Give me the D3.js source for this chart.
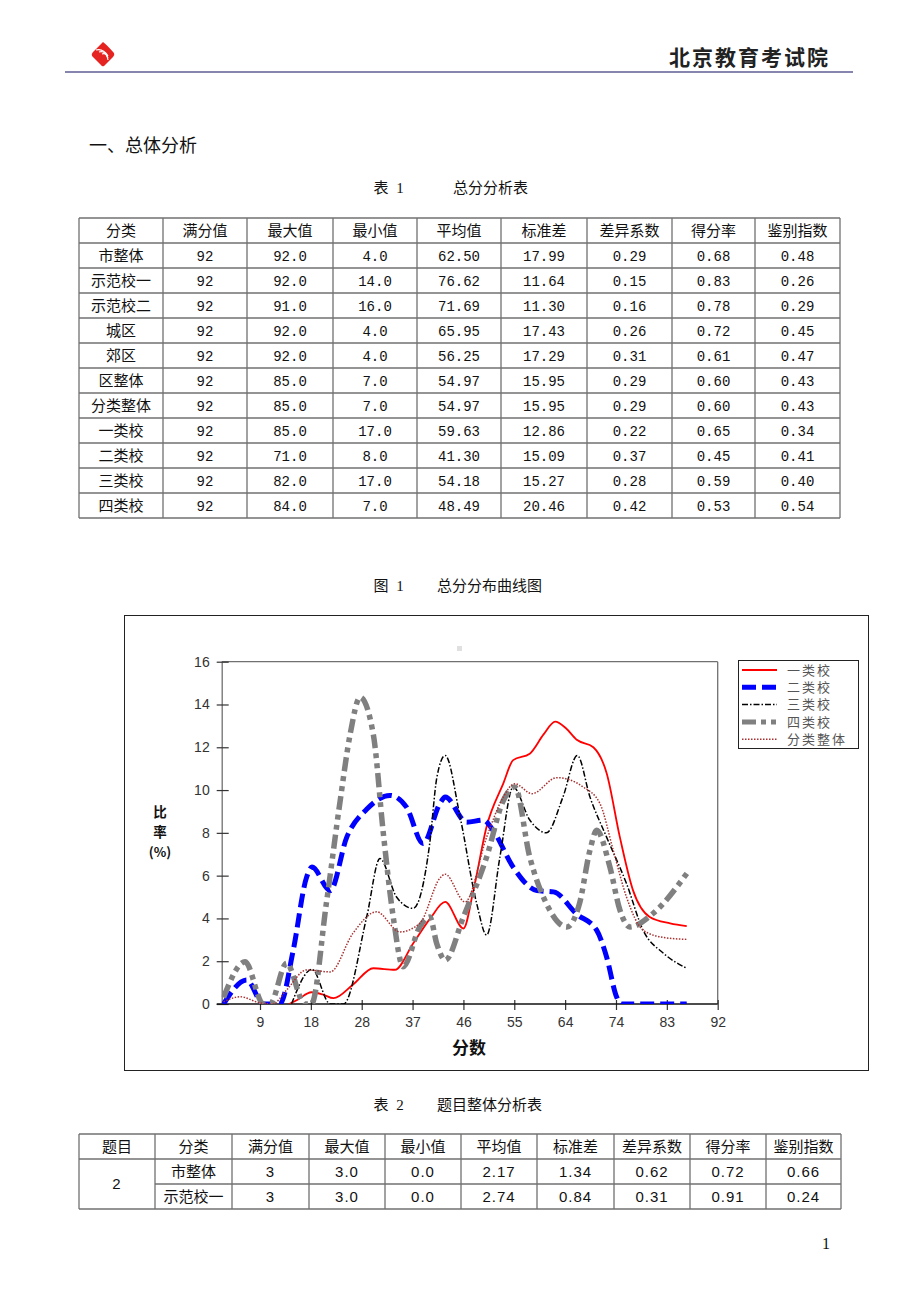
<!DOCTYPE html>
<html><head><meta charset="utf-8">
<script src="https://cdn.jsdelivr.net/npm/d3@7"></script>
<style>body{margin:0;background:#fff} svg{display:block}</style>
</head><body>
<script>
// ---------- chart data ----------
const xTickLabels = [9,18,28,37,46,55,64,74,83,92];
const yTicks = [0,2,4,6,8,10,12,14,16];
const seriesNames = ["一类校","二类校","三类校","四类校","分类整体"];
const s1 = [[14.5,0],[16,0.2],[18.5,0.55],[20.5,0.45],[22.5,0.27],[26,0.9],[29.7,1.67],[33.6,1.6],[36.9,2.83],[40,4.0],[42.7,4.77],[46,3.53],[47.8,5.3],[50.2,8.3],[53.2,10.3],[55,11.4],[58,11.7],[60.5,12.6],[62.6,13.2],[64.5,12.9],[66.5,12.35],[69.5,12.0],[71.9,10.8],[74.3,7.8],[76.7,5.3],[79.7,4.07],[83.4,3.77],[86.4,3.64]];
const s2 = [[2.6,0],[6.8,1.12],[9.8,0],[12.8,0],[15.2,2.5],[17.6,5.9],[18.6,6.4],[21.9,5.3],[24.9,7.8],[28.5,9.1],[32.7,9.75],[35.7,9.2],[38.7,7.5],[41.8,9.4],[42.7,9.67],[46.6,8.5],[49.6,8.6],[51.4,8.1],[55,6.4],[59.3,5.3],[62.3,5.24],[66.5,4.2],[70.1,3.45],[71.9,2.2],[73.7,0.34],[74.5,0],[80,0],[86.4,0]];
const s3 = [[14.9,0],[18.6,1.62],[21.9,0],[24.3,0],[28.5,4.07],[30.9,6.8],[33.9,5.0],[36.9,4.47],[39.9,7.5],[41.2,10.6],[42.7,11.62],[45.4,8.74],[48.4,4.7],[50.2,3.22],[52.6,6.87],[55,10.14],[58,8.6],[61,8.0],[64,9.67],[66.6,11.62],[68.9,9.67],[71.9,7.8],[75.5,5.63],[78.5,3.45],[82.2,2.37],[86.4,1.67]];
const s4 = [[2.6,0.3],[6.5,1.97],[9.8,0],[11,0],[14,1.9],[17.3,0],[18.5,0],[21.2,4.7],[23.7,9.5],[25.5,12.6],[27.3,14.34],[29.7,12.6],[31.5,8.0],[33.3,4.07],[35.1,1.74],[38.1,3.6],[39.9,4.07],[41.2,2.8],[42.7,2.05],[46,4.07],[50.2,6.87],[53.2,9.5],[55.3,10.14],[58,6.87],[61,4.7],[64.7,3.6],[67,4.7],[68.9,7.2],[70.1,8.12],[72.5,6.4],[74.3,4.4],[76.1,3.6],[80.3,4.23],[86.4,6.1]];
const s5 = [[2.6,0.1],[5.6,0.34],[9.2,0.05],[11.5,0],[14,0.65],[17.6,1.59],[21.9,1.5],[26,3.3],[30.3,4.31],[34.5,3.37],[38.1,3.77],[41.8,5.9],[42.7,6.07],[46.3,4.77],[50.2,7.8],[53.2,9.67],[55.3,10.3],[58.4,9.83],[62.9,10.58],[67.7,10.14],[70.7,9.37],[73.1,7.19],[75.5,5.0],[78.5,3.45],[82.2,3.11],[86.4,3.02]];

// ---------- table 1 data ----------
const t1Headers = ["分类","满分值","最大值","最小值","平均值","标准差","差异系数","得分率","鉴别指数"];
const t1Categories = ["市整体","示范校一","示范校二","城区","郊区","区整体","分类整体","一类校","二类校","三类校","四类校"];
const t1Full = ["92","92","92","92","92","92","92","92","92","92","92"];
const t1Max = ["92.0","92.0","91.0","92.0","92.0","85.0","85.0","85.0","71.0","82.0","84.0"];
const t1Min = ["4.0","14.0","16.0","4.0","4.0","7.0","7.0","17.0","8.0","17.0","7.0"];
const t1Mean = ["62.50","76.62","71.69","65.95","56.25","54.97","54.97","59.63","41.30","54.18","48.49"];
const t1Sd = ["17.99","11.64","11.30","17.43","17.29","15.95","15.95","12.86","15.09","15.27","20.46"];
const t1Cv = ["0.29","0.15","0.16","0.26","0.31","0.29","0.29","0.22","0.37","0.28","0.42"];
const t1Rate = ["0.68","0.83","0.78","0.72","0.61","0.60","0.60","0.65","0.45","0.59","0.53"];
const t1Disc = ["0.48","0.26","0.29","0.45","0.47","0.43","0.43","0.34","0.41","0.40","0.54"];

// ---------- table 2 data ----------
const t2Headers = ["题目","分类","满分值","最大值","最小值","平均值","标准差","差异系数","得分率","鉴别指数"];
const t2Item = "2";
const t2Categories = ["市整体","示范校一"];
const t2Full = ["3","3"];
const t2Max = ["3.0","3.0"];
const t2Min = ["0.0","0.0"];
const t2Mean = ["2.17","2.74"];
const t2Sd = ["1.34","0.84"];
const t2Cv = ["0.62","0.31"];
const t2Rate = ["0.72","0.91"];
const t2Disc = ["0.66","0.24"];

const CJK = "'Noto Sans CJK SC','Noto Sans',sans-serif";
const svg = d3.select("body").append("svg").attr("width",920).attr("height",1302);
svg.append("rect").attr("width",920).attr("height",1302).attr("fill","#fff");

// ---------- page header ----------
const logo = svg.append("g");
logo.append("path").attr("d","M103,42 Q106,44 114,53 Q115,55 113,57 L104,66 Q102,67 101,65 L92,56 Q91,54 93,52 Z").attr("fill","#e52421");
[0,1,2].forEach((d,i)=>{
  logo.append("path").attr("d",`M${96+i*3},${50+i*2} Q${103+i*2},${48+i*2} ${108},${56+i*2}`).attr("fill","none").attr("stroke","#fff").attr("stroke-width",1.2);
});
svg.append("text").attr("x",830).attr("y",65).attr("text-anchor","end")
  .attr("font-family",CJK).attr("font-size",21).attr("font-weight","bold").attr("letter-spacing",2)
  .attr("fill","#222").text("北京教育考试院");
svg.append("line").attr("x1",65).attr("x2",853).attr("y1",72).attr("y2",72).attr("stroke","#8585b0").attr("stroke-width",2);

svg.append("text").attr("x",89).attr("y",146).attr("dy","0.36em").attr("font-family",CJK).attr("font-size",18)
  .attr("fill","#111").text("一、总体分析");

function caption(num, title, y, titleX){
  svg.append("text").attr("x",381).attr("y",y).attr("dy","0.36em").attr("text-anchor","middle").attr("font-family",CJK).attr("font-size",15).attr("fill","#111").text(num.split(" ")[0]);
  svg.append("text").attr("x",400).attr("y",y).attr("dy","0.36em").attr("text-anchor","middle").attr("font-family","'Liberation Serif',serif").attr("font-size",15).attr("fill","#111").text(num.split(" ")[1]);
  svg.append("text").attr("x",titleX).attr("y",y).attr("dy","0.36em").attr("font-family",CJK).attr("font-size",15).attr("fill","#111").text(title);
}
caption("表 1","总分分析表",188,453);
caption("图 1","总分分布曲线图",586,437);
caption("表 2","题目整体分析表",1105,437);

// ---------- table helper ----------
const NUMFONT = "'Liberation Mono',monospace";
function drawTable(colX, top, rowH, headers, rows, opts){
  const g = svg.append("g");
  const nRows = rows.length + 1;
  const bottom = top + rowH*nRows;
  headers.forEach((h,i)=>{
    g.append("text").attr("x",(colX[i]+colX[i+1])/2).attr("y",top+rowH/2).attr("dy","0.36em")
      .attr("text-anchor","middle").attr("font-family",CJK).attr("font-size",15).attr("fill","#111").text(h);
  });
  rows.forEach((r,ri)=>{
    r.forEach((c,ci)=>{
      if(c===null) return;
      const isCJK = /[\u4e00-\u9fff]/.test(c);
      const yy = (opts.spanRow && ci===0) ? top+rowH+rowH*rows.length/2 : top+rowH*(ri+1)+rowH/2;
      g.append("text").attr("x",(colX[ci]+colX[ci+1])/2).attr("y",yy).attr("dy","0.36em")
        .attr("text-anchor","middle").attr("font-family",isCJK?CJK:opts.numFont).attr("font-size",isCJK?15:opts.numSize)
        .attr("letter-spacing",isCJK?0:opts.numSpacing).attr("fill","#111").text(c);
    });
  });
  const st = "#707070";
  for(let i=0;i<=nRows;i++){
    const yy = top+rowH*i;
    let x0 = colX[0];
    if(opts.spanRow && i>1 && i<nRows) x0 = colX[1];
    g.append("line").attr("x1",x0).attr("x2",colX[colX.length-1]).attr("y1",yy).attr("y2",yy).attr("stroke",st).attr("stroke-width",1.3);
  }
  colX.forEach(cx=>{
    g.append("line").attr("x1",cx).attr("x2",cx).attr("y1",top).attr("y2",bottom).attr("stroke",st).attr("stroke-width",1.3);
  });
}
const t1Rows = t1Categories.map((c,i)=>[c,t1Full[i],t1Max[i],t1Min[i],t1Mean[i],t1Sd[i],t1Cv[i],t1Rate[i],t1Disc[i]]);
drawTable([79,163,247,333,417,501,587,672,755,840],218,25,t1Headers,t1Rows,{numFont:NUMFONT,numSize:14,numSpacing:0});

const t2Rows = t2Categories.map((c,i)=>[i===0?t2Item:null,c,t2Full[i],t2Max[i],t2Min[i],t2Mean[i],t2Sd[i],t2Cv[i],t2Rate[i],t2Disc[i]]);
drawTable([79,155,232,309,385,461,537,614,690,766,841],1134,25,t2Headers,t2Rows,{numFont:"'Liberation Sans Narrow','Liberation Sans',sans-serif",numSize:15,numSpacing:1,spanRow:true});

svg.append("text").attr("x",826).attr("y",1249).attr("text-anchor","middle").attr("font-family","'Liberation Serif',serif").attr("font-size",16).attr("fill","#111").text("1");

// ---------- chart ----------
svg.append("rect").attr("x",124.5).attr("y",615.5).attr("width",744).attr("height",455).attr("fill","none").attr("stroke","#222").attr("stroke-width",1);
svg.append("rect").attr("x",457).attr("y",646).attr("width",5).attr("height",5).attr("fill","#e0e0e0");

const L=221.7, R=717.7, T=661.7, B=1004;
const x = d3.scaleLinear().domain([2.27,92]).range([L,R]);
const y = d3.scaleLinear().domain([0,16]).range([B,T]);
const xTickVals = xTickLabels.map((d,i)=>92*(i+1)/10);

svg.append("line").attr("x1",L).attr("x2",R).attr("y1",T).attr("y2",T).attr("stroke","#707070").attr("stroke-width",1.3);
svg.append("line").attr("x1",R).attr("x2",R).attr("y1",T).attr("y2",B).attr("stroke","#707070").attr("stroke-width",1.3);

const yAxis = d3.axisLeft(y).tickValues(yTicks).tickSize(0).tickPadding(12).tickFormat(d3.format("d"));
const gy = svg.append("g").attr("transform",`translate(${L},0)`).call(yAxis);
gy.select(".domain").attr("stroke","#707070").attr("stroke-width",1.3);
gy.selectAll(".tick text").attr("font-family","'Liberation Sans',Arial,sans-serif").attr("font-size",14).attr("fill","#333");
gy.selectAll(".tick").append("line").attr("x1",-5).attr("x2",7).attr("stroke","#333").attr("stroke-width",1.2);

const xAxis = d3.axisBottom(x).tickValues(xTickVals).tickSize(0).tickPadding(13).tickFormat((d,i)=>xTickLabels[i]);
const gx = svg.append("g").attr("transform",`translate(0,${B})`).call(xAxis);
gx.select(".domain").remove();
gx.append("line").attr("x1",L-5).attr("x2",R).attr("y1",0).attr("y2",0).attr("stroke","#111").attr("stroke-width",1.3);
gx.selectAll(".tick text").attr("font-family","'Liberation Sans',Arial,sans-serif").attr("font-size",14).attr("fill","#333");
gx.selectAll(".tick").append("line").attr("y1",-4).attr("y2",6).attr("stroke","#333").attr("stroke-width",1.2);

// y title, stacked
const ytLines = [["比",812,13.5],["率",832,13.5],["(%)",852,13]];
ytLines.forEach(([t,yy,fs])=>{
  svg.append("text").attr("x",160).attr("y",yy).attr("dy","0.36em").attr("text-anchor","middle").attr("font-family",CJK)
    .attr("font-weight","bold").attr("font-size",fs).attr("fill","#111").text(t);
});
svg.append("text").attr("x",469).attr("y",1048).attr("dy","0.36em").attr("text-anchor","middle").attr("font-family",CJK).attr("font-weight","bold").attr("font-size",17).attr("fill","#111").text("分数");

svg.append("clipPath").attr("id","plotclip").append("rect").attr("x",L).attr("y",T).attr("width",R-L).attr("height",B-T);
const styles = [
  {color:"#ff0000", w:1.8, dash:null},
  {color:"#0000ff", w:5, dash:"14,6"},
  {color:"#000000", w:1.5, dash:"6,2,1.5,2"},
  {color:"#808080", w:5.5, dash:"14,5,5,5,5,5"},
  {color:"#a83030", w:1.5, dash:"1.5,1.5"}
];
const allSeries = [s1,s2,s3,s4,s5];
const line = d3.line().x(d=>x(d[0])).y(d=>y(d[1])).curve(d3.curveMonotoneX);
const gc = svg.append("g").attr("clip-path","url(#plotclip)");
allSeries.forEach((s,i)=>{
  gc.append("path").attr("d",line(s)).attr("fill","none").attr("stroke",styles[i].color)
    .attr("stroke-width",styles[i].w).attr("stroke-dasharray",styles[i].dash).attr("stroke-linejoin","round");
});

// legend
const lg = svg.append("g");
lg.append("rect").attr("x",738.5).attr("y",660.5).attr("width",120).attr("height",88).attr("fill","#fff").attr("stroke","#222").attr("stroke-width",1);
const lt = lg.append("text").attr("font-family",CJK).attr("font-size",13).attr("letter-spacing",2).attr("fill","#555");
seriesNames.forEach((n,i)=>{
  const yy = 670 + i*17.3;
  lg.append("line").attr("x1",742).attr("x2",777).attr("y1",yy).attr("y2",yy).attr("stroke",styles[i].color)
    .attr("stroke-width",Math.min(styles[i].w,5)).attr("stroke-dasharray",styles[i].dash);
  lt.append("tspan").attr("x",787).attr("y",yy+4.7).text(n);
});
</script>
</body></html>
